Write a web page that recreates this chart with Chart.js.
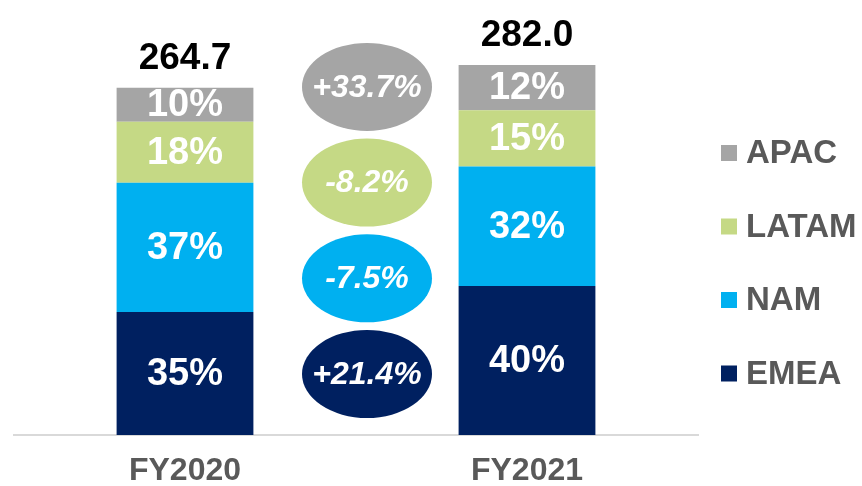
<!DOCTYPE html>
<html><head><meta charset="utf-8">
<script src="https://cdn.jsdelivr.net/npm/chart.js@4.4.1/dist/chart.umd.min.js"></script>
<style>html,body{margin:0;padding:0;background:#fff}#wrap{width:862px;height:486px}</style>
</head><body><div id="wrap"><canvas id="c" width="862" height="486"></canvas></div>
<script>
// ---- data ----
const categories = ['FY2020', 'FY2021'];
const regions = ['EMEA', 'NAM', 'LATAM', 'APAC'];
const emea  = [93.7, 113.5];
const nam   = [98.5, 91.2];
const latam = [46.6, 42.8];
const apac  = [25.9, 34.5];
const growth = [21.4, -7.5, -8.2, 33.7]; // YoY change per region: EMEA, NAM, LATAM, APAC

// ---- styles ----
const colors = ['#002060', '#00b0f0', '#c5d985', '#a5a5a5'];
const FONT = "'Liberation Sans', Arial, sans-serif";

const series = [emea, nam, latam, apac];
const totals = categories.map((_, j) => series.reduce((s, a) => s + a[j], 0));

const labelsPlugin = {
  id: 'labels',
  afterDatasetsDraw(chart) {
    const ctx = chart.ctx;
    ctx.save();
    ctx.textAlign = 'center';
    ctx.textBaseline = 'middle';
    // segment percentages
    chart.data.datasets.forEach((ds, i) => {
      const meta = chart.getDatasetMeta(i);
      meta.data.forEach((bar, j) => {
        const pct = Math.round(ds.data[j] / totals[j] * 100);
        ctx.fillStyle = '#ffffff';
        ctx.font = 'bold 38px ' + FONT;
        ctx.fillText(pct + '%', bar.x, (bar.y + bar.base) / 2 + 1);
      });
    });
    // totals
    const topMeta = chart.getDatasetMeta(chart.data.datasets.length - 1);
    topMeta.data.forEach((bar, j) => {
      ctx.fillStyle = '#000000';
      ctx.font = 'bold 37px ' + FONT;
      ctx.fillText(totals[j].toFixed(1), bar.x, bar.y - 29);
    });
    // growth ellipses
    const m0 = chart.getDatasetMeta(0).data;
    const cx = (m0[0].x + m0[1].x) / 2 + 11;
    const base = chart.scales.y.getPixelForValue(0);
    growth.forEach((g, i) => {
      const cy = base - 61 - i * 95.7;
      ctx.beginPath();
      ctx.ellipse(cx, cy, 65, 44, 0, 0, Math.PI * 2);
      ctx.fillStyle = colors[i];
      ctx.fill();
      ctx.fillStyle = '#ffffff';
      ctx.font = 'italic bold 32px ' + FONT;
      ctx.fillText((g > 0 ? '+' : '') + g.toFixed(1) + '%', cx, cy + 1);
    });
    // legend (reverse order)
    ctx.textAlign = 'left';
    ctx.font = 'bold 33px ' + FONT;
    const n = chart.data.datasets.length;
    for (let k = 0; k < n; k++) {
      const i = n - 1 - k;
      const y = 153 + k * 73.5;
      ctx.fillStyle = chart.data.datasets[i].backgroundColor;
      ctx.fillRect(721, y - 8, 16, 16);
      ctx.fillStyle = '#595959';
      ctx.fillText(chart.data.datasets[i].label, 746, y + 1);
    }
    ctx.restore();
  }
};

new Chart(document.getElementById('c'), {
  type: 'bar',
  data: {
    labels: categories,
    datasets: regions.map((r, i) => ({
      label: r,
      data: series[i],
      backgroundColor: colors[i],
      borderWidth: 0,
      categoryPercentage: 0.8,
      barPercentage: 0.5
    }))
  },
  options: {
    responsive: false,
    animation: false,
    layout: { padding: { left: 14, right: 164, top: 0, bottom: 0 } },
    plugins: { legend: { display: false }, tooltip: { enabled: false } },
    scales: {
      x: {
        stacked: true,
        afterFit: (s) => { s.height = 51; },
        grid: { display: false, drawTicks: false },
        border: { display: true, color: '#d9d9d9', width: 2 },
        ticks: { color: '#595959', font: { family: FONT, size: 32, weight: 'bold' }, padding: 17 }
      },
      y: {
        stacked: true,
        display: false,
        min: 0,
        max: 331.5
      }
    }
  },
  plugins: [labelsPlugin]
});
</script>
</body></html>
